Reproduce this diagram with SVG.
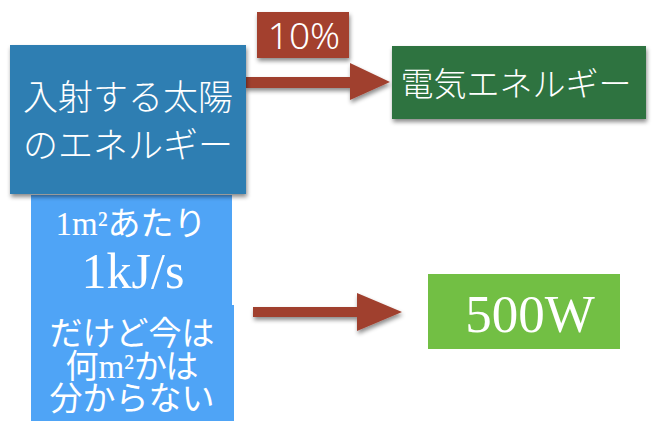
<svg xmlns="http://www.w3.org/2000/svg" width="661" height="434" viewBox="0 0 661 434">
<defs>
<filter id="sh" x="-10%" y="-10%" width="130%" height="130%">
<feDropShadow dx="1" dy="3" stdDeviation="2" flood-color="#000" flood-opacity="0.45"/>
</filter>
<style>
.jp{font-family:"Noto Sans CJK JP","Noto Sans",sans-serif;fill:#fff;text-anchor:middle}
.sf{font-family:"Liberation Serif","Noto Sans CJK JP",serif;fill:#fff;text-anchor:middle}
.sans{font-family:"Noto Sans","Noto Sans CJK JP",sans-serif;fill:#fff;text-anchor:middle}
.arrow{fill:#a0402f}
</style>
</defs>
<g id="connectors">
<path class="arrow" filter="url(#sh)" d="M245,77 L350,77 L350,63 L390,82 L350,100 L350,88 L245,88 Z"/>
<path class="arrow" filter="url(#sh)" d="M253,307 L357,307 L357,293 L402,312 L357,331 L357,317 L253,317 Z"/>
</g>
<g id="label-10">
<rect x="257" y="12" width="92" height="46" fill="#a3402f" filter="url(#sh)"/>
<text class="sans" x="304" y="49" font-size="37" font-weight="300">10%</text>
</g>
<g id="light-blue">
<path d="M31,195 L232,195 L232,305 L234,305 L234,421 L31,421 Z" fill="#4fa4f6"/>
<text class="sf" x="131" y="235" font-size="33">1m²あたり</text>
<text class="sf" x="133" y="288" font-size="50">1kJ/s</text>
<text class="jp" x="132" y="345" font-size="33">だけど今は</text>
<text class="sf" x="132" y="378" font-size="33">何m²かは</text>
<text class="jp" x="132" y="410" font-size="33">分からない</text>
</g>
<g id="solar">
<rect x="10" y="45" width="236" height="149" fill="#2f7eb2" filter="url(#sh)"/>
<text class="jp" x="128" y="110" font-size="35" font-weight="300">入射する太陽</text>
<text class="jp" x="128" y="158" font-size="35" font-weight="300">のエネルギー</text>
</g>
<g id="electric">
<rect x="392" y="46" width="254" height="73" fill="#2e7341" filter="url(#sh)"/>
<text class="jp" x="516" y="96" font-size="33" font-weight="300">電気エネルギー</text>
</g>
<g id="watt">
<rect x="428" y="274" width="192" height="75" fill="#72bf44"/>
<text class="sf" x="530" y="332" font-size="53">500W</text>
</g>
</svg>
